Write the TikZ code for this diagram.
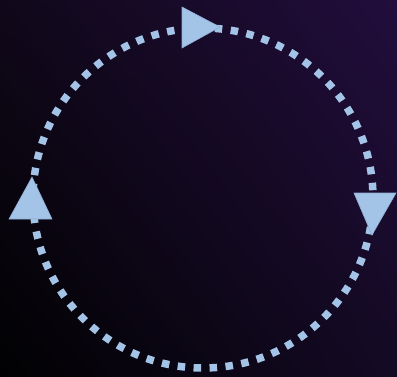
\documentclass[tikz,border=0pt]{standalone}
\usetikzlibrary{shadings}
\definecolor{ringblue}{HTML}{A3C3E7}
\definecolor{ringedge}{HTML}{8FAED4}
\definecolor{bgTL}{HTML}{10081A}
\definecolor{bgTR}{HTML}{220D3C}
\definecolor{bgBL}{HTML}{010102}
\definecolor{bgBR}{HTML}{140A24}
\tikzset{
  ring/.style={draw=ringblue, line width=7.5pt, dash pattern=on 7.5pt off 8.5pt},
  headtip/.style={fill=ringblue, draw=ringedge, line width=0.6pt, line join=miter}
}
\begin{document}
\begin{tikzpicture}[x=1pt,y=-1pt]
  \shade[upper left=bgTL, upper right=bgTR, lower left=bgBL, lower right=bgBR]
    (0,0) rectangle (397,376);
  \useasboundingbox (0,0) rectangle (397,376);
  \coordinate (c) at (203,198);
  \draw[ring, dash phase=3pt] (c) circle[radius=170];
  % arrowheads
  \filldraw[headtip] (182,7) -- (182,48) -- (220,27) -- cycle;
  \filldraw[headtip] (354,193) -- (396,193) -- (372,235) -- cycle;
  \filldraw[headtip] (9,219) -- (52,219) -- (32,177) -- cycle;
\end{tikzpicture}
\end{document}
